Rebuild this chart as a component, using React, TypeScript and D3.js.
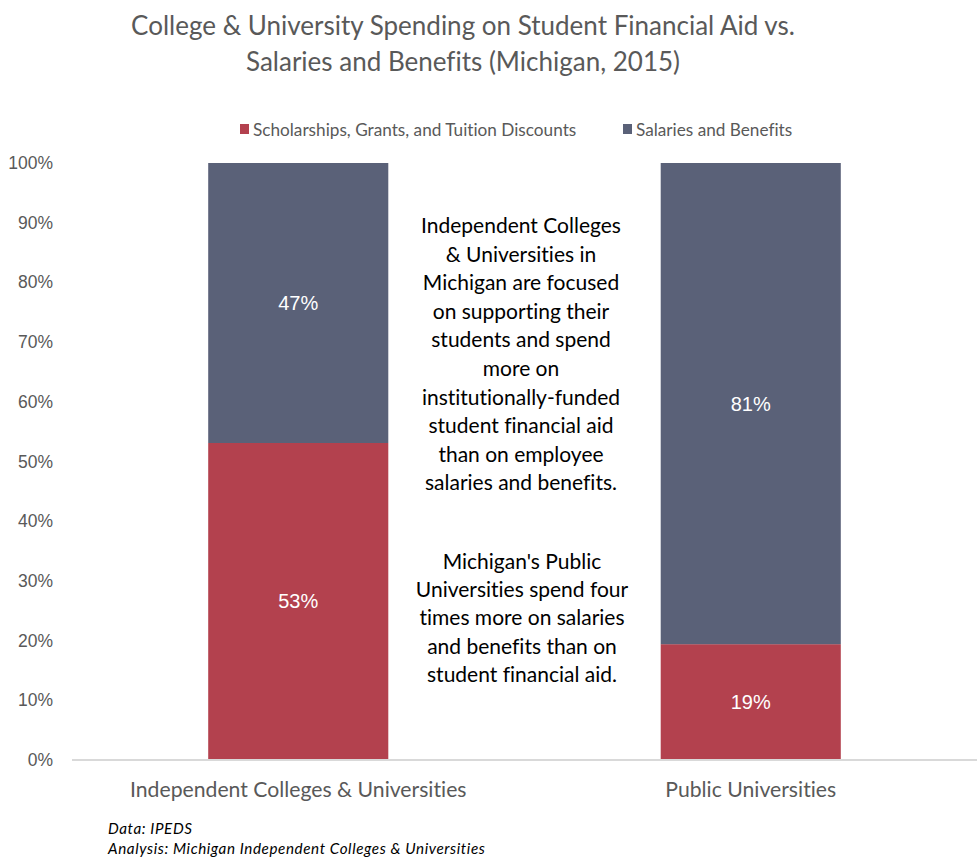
import React from "react";
import * as d3 from "d3";

const categories = ["Independent Colleges & Universities", "Public Universities"];
const seriesNames = ["Scholarships, Grants, and Tuition Discounts", "Salaries and Benefits"];
const aidValues = [53.1, 19.4];
const salaryValues = [46.9, 80.6];
const aidLabels = ["53%", "19%"];
const salaryLabels = ["47%", "81%"];
const yTicks = [0, 10, 20, 30, 40, 50, 60, 70, 80, 90, 100];
const titleLines = [
  "College & University Spending on Student Financial Aid vs.",
  "Salaries and Benefits (Michigan, 2015)",
];
const note1 = [
  "Independent Colleges",
  "& Universities in",
  "Michigan are focused",
  "on supporting their",
  "students and spend",
  "more on",
  "institutionally-funded",
  "student financial aid",
  "than on employee",
  "salaries and benefits.",
];
const note2 = [
  "Michigan's Public",
  "Universities spend four",
  "times more on salaries",
  "and benefits than on",
  "student financial aid.",
];
const sources = ["Data: IPEDS", "Analysis: Michigan Independent Colleges & Universities"];

const W = 977;
const H = 866;
const RED = "#b3414e";
const BLUE = "#5a6178";
const GRAY = "#595959";
const CAL = "Lato, 'Open Sans', sans-serif";
const ARIAL = "'Liberation Sans', Arial, sans-serif";

export default function App() {
  const x = d3.scaleBand<string>().domain(categories).range([72, 977]).paddingInner(0).paddingOuter(0);
  const y = d3.scaleLinear().domain([0, 100]).range([760, 163]);
  const barW = x.bandwidth() * 0.398;
  const colors = [RED, BLUE];
  const stack = categories.map((c, i) => {
    const a = aidValues[i];
    const s = salaryValues[i];
    return [
      { c, y0: 0, y1: a, label: aidLabels[i], color: RED },
      { c, y0: a, y1: a + s, label: salaryLabels[i], color: BLUE },
    ];
  });

  return (
    <svg
      width={W}
      height={H}
      style={{ position: "absolute", left: 0, top: 0, background: "#fff", fontVariantLigatures: "none" }}
    >
      {titleLines.map((t, i) => (
        <text key={i} x={463} y={35 + i * 36} textAnchor="middle" fontFamily={CAL} fontSize={26} fill={GRAY}>
          {t}
        </text>
      ))}
      {/* legend */}
      {seriesNames.map((n, i) => {
        const lx = i === 0 ? 240 : 623;
        return (
          <g key={n}>
            <rect x={lx} y={124} width={9} height={10} fill={colors[i]} />
            <text x={lx + 13} y={136} fontFamily={CAL} fontSize={17.2} fill={GRAY}>
              {n}
            </text>
          </g>
        );
      })}
      {/* y axis labels */}
      {yTicks.map((t) => (
        <text key={t} x={53} y={y(t) + 6} textAnchor="end" fontFamily={ARIAL} fontSize={17.5} fill={GRAY}>
          {t}%
        </text>
      ))}
      {/* bars */}
      {stack.map((segs) =>
        segs.map((s, j) => {
          const cx = (x(s.c) as number) + x.bandwidth() / 2;
          return (
            <g key={s.c + j}>
              <rect x={cx - barW / 2} y={y(s.y1)} width={barW} height={y(s.y0) - y(s.y1)} fill={s.color} />
              <text
                x={cx}
                y={(y(s.y0) + y(s.y1)) / 2 + 7}
                textAnchor="middle"
                fontFamily={ARIAL}
                fontSize={20}
                fill="#ffffff"
              >
                {s.label}
              </text>
            </g>
          );
        })
      )}
      {/* axis line */}
      <line x1={72} x2={977} y1={760} y2={760} stroke="#d9d9d9" strokeWidth={2} />
      {categories.map((c) => (
        <text
          key={c}
          x={(x(c) as number) + x.bandwidth() / 2}
          y={797}
          textAnchor="middle"
          fontFamily={CAL}
          fontSize={21.2}
          fill={GRAY}
        >
          {c}
        </text>
      ))}
      {/* annotations */}
      {note1.map((t, i) => (
        <text key={t} x={521} y={233 + i * 28.6} textAnchor="middle" fontFamily={CAL} fontSize={21} fill="#000">
          {t}
        </text>
      ))}
      {note2.map((t, i) => (
        <text key={t} x={522} y={569 + i * 28.2} textAnchor="middle" fontFamily={CAL} fontSize={21} fill="#000">
          {t}
        </text>
      ))}
      {sources.map((t, i) => (
        <text
          key={t}
          x={108}
          y={834 + i * 20}
          fontFamily={CAL}
          fontStyle="italic"
          fontSize={15.2}
          letterSpacing={0.6}
          fill="#000"
        >
          {t}
        </text>
      ))}
    </svg>
  );
}
